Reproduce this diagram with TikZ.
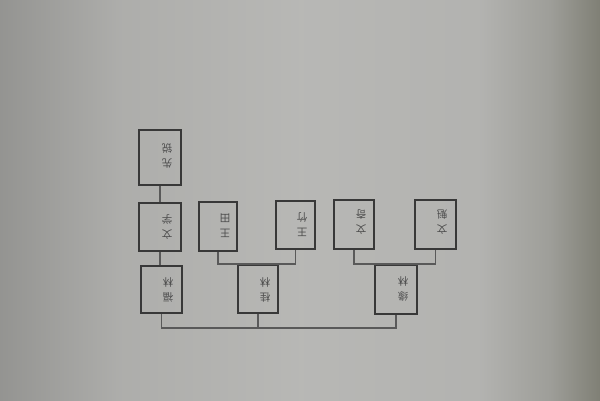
\documentclass[tikz,border=0pt]{standalone}
\usepackage{fontspec}
\newfontfamily\cjk{Noto Sans CJK SC}
\pgfdeclarehorizontalshading{paper}{100bp}{%
  rgb(0bp)=(0.58,0.58,0.57);
  rgb(25bp)=(0.58,0.58,0.57);
  rgb(35bp)=(0.68,0.68,0.67);
  rgb(50bp)=(0.72,0.72,0.71);
  rgb(65bp)=(0.70,0.70,0.69);
  rgb(70.8bp)=(0.62,0.62,0.60);
  rgb(75bp)=(0.50,0.50,0.46);
  rgb(100bp)=(0.50,0.50,0.46)}
\begin{document}
\begin{tikzpicture}[x=1pt,y=-1pt,
  famblock/.style={draw=black!78,line width=2pt,fill=none,inner sep=0pt},
  famtext/.style={rotate=180,text=black!70,font=\cjk\fontsize{10.5}{15}\selectfont,align=center,inner sep=0pt},
  famlink/.style={draw=black!65,line width=1.3pt}]
% paper background
\fill[shading=paper,shading angle=0] (0,0) rectangle (600,400);
\useasboundingbox (0,0) rectangle (600,400);
% boxes
\node[famblock,minimum width=42,minimum height=55] (A) at (160,157.5) {};
\node[famblock,minimum width=42,minimum height=48] (B) at (160,227) {};
\node[famblock,minimum width=41,minimum height=47] (C) at (161.5,289.5) {};
\node[famblock,minimum width=38,minimum height=49] (D) at (218,226.5) {};
\node[famblock,minimum width=39,minimum height=48] (E) at (295.5,225) {};
\node[famblock,minimum width=40,minimum height=48] (F) at (258,289) {};
\node[famblock,minimum width=40,minimum height=49] (G) at (354,224.5) {};
\node[famblock,minimum width=41,minimum height=49] (H) at (435.5,224.5) {};
\node[famblock,minimum width=42,minimum height=49] (I) at (396,289.5) {};
% texts (printed upside down)
\node[famtext] (tA) at (167,156) {先\\锐};
\node[famtext] (tB) at (167,227) {文\\学};
\node[famtext] (tC) at (168,290) {福\\林};
\node[famtext] (tD) at (225,226) {王\\田};
\node[famtext] (tE) at (302,225) {王\\竹};
\node[famtext] (tF) at (265,290) {桂\\林};
\node[famtext] (tG) at (361,222) {文\\奇};
\node[famtext] (tH) at (442,222) {文\\魁};
\node[famtext] (tI) at (403,289) {缘\\林};
% connectors
\coordinate (bus) at (0,328);
\draw[famlink] (A.south) -- (B.north);
\draw[famlink] (B.south) -- (B.south |- C.north);
\draw[famlink] (D.south) -- (D.south |- F.north) -- (E.south |- F.north) -- (E.south);
\draw[famlink] (G.south) -- (G.south |- I.north) -- (H.south |- I.north) -- (H.south);
\draw[famlink] (C.south) -- (C.south |- bus) -- (I.south |- bus) -- (I.south);
\draw[famlink] (F.south) -- (F.south |- bus);
\end{tikzpicture}
\end{document}
